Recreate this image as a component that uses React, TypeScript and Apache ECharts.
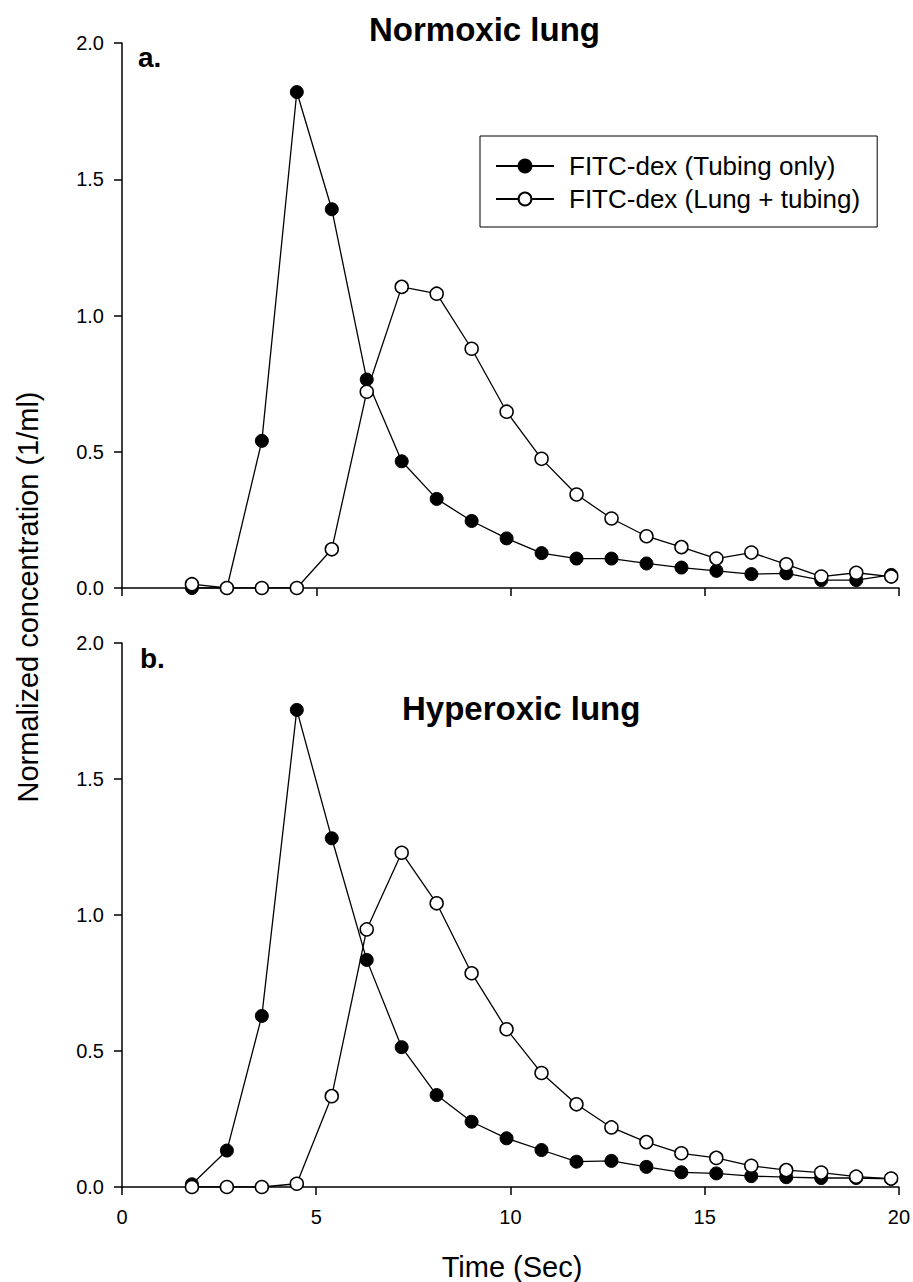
import React, { useEffect, useRef } from "react";
import * as echarts from "echarts";

const times = [1.8, 2.7, 3.6, 4.5, 5.4, 6.3, 7.2, 8.1, 9.0, 9.9, 10.8, 11.7, 12.6, 13.5, 14.4, 15.3, 16.2, 17.1, 18.0, 18.9, 19.8];
const normoxicTubing = [0.0, 0.0, 0.54, 1.82, 1.39, 0.765, 0.465, 0.327, 0.246, 0.182, 0.128, 0.108, 0.108, 0.09, 0.075, 0.063, 0.051, 0.054, 0.029, 0.029, 0.048];
const normoxicLung = [0.014, 0.0, 0.0, 0.0, 0.142, 0.72, 1.105, 1.08, 0.878, 0.647, 0.474, 0.343, 0.255, 0.19, 0.15, 0.108, 0.13, 0.087, 0.042, 0.056, 0.042];
const hyperoxicTubing = [0.01, 0.134, 0.629, 1.754, 1.282, 0.835, 0.514, 0.338, 0.24, 0.179, 0.136, 0.093, 0.096, 0.074, 0.054, 0.05, 0.04, 0.036, 0.033, 0.033, 0.03];
const hyperoxicLung = [0.0, 0.0, 0.0, 0.012, 0.334, 0.947, 1.229, 1.043, 0.786, 0.58, 0.419, 0.304, 0.219, 0.165, 0.124, 0.107, 0.078, 0.062, 0.053, 0.038, 0.031];

const seriesNames = ["FITC-dex (Tubing only)", "FITC-dex (Lung + tubing)"];
const xTicks = { min: 0, max: 20, interval: 5 };
const yTicks = { min: 0, max: 2, interval: 0.5 };

const FONT = "'Liberation Sans', Arial, Helvetica, sans-serif";

function pairs(xs: number[], ys: number[]) {
  return xs.map((x, i) => [x, ys[i]]);
}

export default function App() {
  const ref = useRef<HTMLDivElement>(null);
  useEffect(() => {
    if (!ref.current) return;
    const chart = echarts.init(ref.current, undefined, { renderer: "svg" });
    const axisLine = { show: true, lineStyle: { color: "#000", width: 1.5 } };
    const axisTick = { show: true, inside: false, length: 8, lineStyle: { color: "#000", width: 1.5 } };
    const mkX = (idx: number, showLabel: boolean) => ({
      type: "value",
      gridIndex: idx,
      min: xTicks.min,
      max: xTicks.max,
      interval: xTicks.interval,
      axisLine,
      axisTick,
      splitLine: { show: false },
      axisLabel: { show: showLabel, color: "#000", fontSize: 20, fontFamily: FONT, margin: 20 },
    });
    const mkY = (idx: number) => ({
      type: "value",
      gridIndex: idx,
      min: yTicks.min,
      max: yTicks.max,
      interval: yTicks.interval,
      axisLine,
      axisTick,
      splitLine: { show: false },
      axisLabel: {
        color: "#000",
        fontSize: 20,
        fontFamily: FONT,
        margin: 18,
        formatter: (v: number) => v.toFixed(1),
      },
    });
    const filled = (name: string, idx: number, ys: number[]) => ({
      name,
      type: "line",
      xAxisIndex: idx,
      yAxisIndex: idx,
      data: pairs(times, ys),
      symbol: "circle",
      symbolSize: 13,
      showAllSymbol: true,
      lineStyle: { color: "#000", width: 1.3 },
      itemStyle: { color: "#000", borderColor: "#000", borderWidth: 1 },
      z: 2,
    });
    const open = (name: string, idx: number, ys: number[]) => ({
      name,
      type: "line",
      xAxisIndex: idx,
      yAxisIndex: idx,
      data: pairs(times, ys),
      symbol: "circle",
      symbolSize: 13,
      showAllSymbol: true,
      lineStyle: { color: "#000", width: 1.3 },
      itemStyle: { color: "#fff", borderColor: "#000", borderWidth: 1.5 },
      z: 3,
    });
    const option = {
      animation: false,
      backgroundColor: "#fff",
      textStyle: { fontFamily: FONT },
      grid: [
        { left: 122, right: 14, top: 43, height: 545 },
        { left: 122, right: 14, top: 643, height: 544 },
      ],
      xAxis: [mkX(0, false), mkX(1, true)],
      yAxis: [mkY(0), mkY(1)],
      legend: {
        left: 480,
        top: 136,
        orient: "vertical",
        selectedMode: false,
        borderColor: "#000",
        borderWidth: 1,
        padding: [17, 17, 15, 15],
        itemGap: 7,
        itemWidth: 58,
        itemHeight: 16,
        textStyle: { fontSize: 26, color: "#000", fontFamily: FONT, lineHeight: 26, padding: [0, 0, 0, 10] },
        data: seriesNames,
      },
      series: [
        filled(seriesNames[0], 0, normoxicTubing),
        open(seriesNames[1], 0, normoxicLung),
        filled(seriesNames[0], 1, hyperoxicTubing),
        open(seriesNames[1], 1, hyperoxicLung),
      ],
      graphic: [
        {
          type: "text",
          x: 369,
          y: 29,
          style: { text: "Normoxic lung", fontSize: 33, fontWeight: "bold", fontFamily: FONT, fill: "#000", align: "left", verticalAlign: "middle" },
        },
        {
          type: "text",
          x: 402,
          y: 708,
          style: { text: "Hyperoxic lung", fontSize: 33, fontWeight: "bold", fontFamily: FONT, fill: "#000", align: "left", verticalAlign: "middle" },
        },
        {
          type: "text",
          x: 138,
          y: 57,
          style: { text: "a.", fontSize: 28, fontWeight: "bold", fontFamily: FONT, fill: "#000", align: "left", verticalAlign: "middle" },
        },
        {
          type: "text",
          x: 140,
          y: 658,
          style: { text: "b.", fontSize: 28, fontWeight: "bold", fontFamily: FONT, fill: "#000", align: "left", verticalAlign: "middle" },
        },
        {
          type: "text",
          x: 512,
          y: 1267,
          style: { text: "Time (Sec)", fontSize: 29, fontFamily: FONT, fill: "#000", align: "center", verticalAlign: "middle" },
        },
        {
          type: "text",
          x: 28,
          y: 597,
          rotation: Math.PI / 2,
          style: { text: "Normalized concentration (1/ml)", fontSize: 29, fontFamily: FONT, fill: "#000", align: "center", verticalAlign: "middle" },
        },
      ],
    };
    chart.setOption(option as any);
    return () => chart.dispose();
  }, []);
  return (
    <div
      ref={ref}
      style={{ position: "absolute", left: 0, top: 0, width: 913, height: 1282, background: "#fff" }}
    />
  );
}
